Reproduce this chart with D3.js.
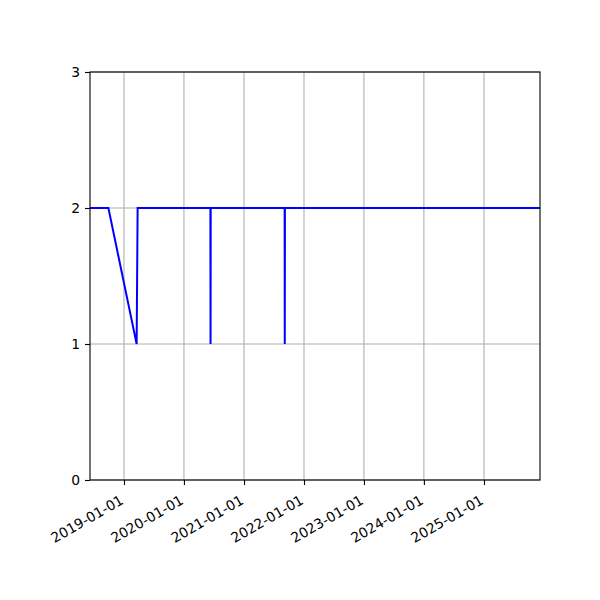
<!DOCTYPE html>
<html>
<head>
  <meta charset="UTF-8">
  <title>Step line</title>
  <style>
    body { margin: 0; background: #fff; }
    text { font-family: "DejaVu Sans", sans-serif; font-size: 13.9px; fill: #000; }
  </style>
</head>
<body>
<svg></svg>
<script src="https://d3js.org/d3.v7.min.js"></script>
<script>

// data
let dates = ["2018-06-08", "2018-09-28", "2019-03-19", "2019-03-25",
             "2020-06-10", "2020-06-11", "2020-06-12",
             "2021-09-05", "2021-09-06", "2021-09-07", "2025-12-08"];
let values = [2, 2, 1, 2, 2, 1, 2, 2, 1, 2, 2];
let tickDates = ["2019-01-01", "2020-01-01", "2021-01-01", "2022-01-01",
                 "2023-01-01", "2024-01-01", "2025-01-01"];
let yTicks = [0, 1, 2, 3];

let width = 600, height = 600;
let margin = {top: 72, right: 60, bottom: 120, left: 90};

let parse = d3.timeParse("%Y-%m-%d");
let points = dates.map((d, i) => ({date: parse(d), value: values[i]}));

let svg = d3.select("svg")
    .attr("width", width)
    .attr("height", height);

let x = d3.scaleTime()
    .domain(d3.extent(points, d => d.date))
    .range([margin.left, width - margin.right]);

let y = d3.scaleLinear()
    .domain([0, 3])
    .range([height - margin.bottom, margin.top]);

// grid
svg.append("g")
    .selectAll("line")
    .data(tickDates.map(parse))
    .enter()
    .append("line")
    .attr("x1", d => x(d)).attr("x2", d => x(d))
    .attr("y1", margin.top).attr("y2", height - margin.bottom)
    .attr("stroke", "#b0b0b0")
    .attr("stroke-width", 1.1);

svg.append("g")
    .selectAll("line")
    .data(yTicks)
    .enter()
    .append("line")
    .attr("x1", margin.left).attr("x2", width - margin.right)
    .attr("y1", d => y(d)).attr("y2", d => y(d))
    .attr("stroke", "#b0b0b0")
    .attr("stroke-width", 1.1);

// line
let line = d3.line()
    .x(d => x(d.date))
    .y(d => y(d.value));

svg.append("path")
    .datum(points)
    .attr("fill", "none")
    .attr("stroke", "blue")
    .attr("stroke-width", 2)
    .attr("d", line);

// frame
svg.append("rect")
    .attr("x", margin.left).attr("y", margin.top)
    .attr("width", width - margin.left - margin.right)
    .attr("height", height - margin.top - margin.bottom)
    .attr("fill", "none")
    .attr("stroke", "#000")
    .attr("stroke-width", 1.1);

// x axis, labels rotated like autofmt_xdate
let xAxis = svg.append("g")
    .attr("transform", "translate(0," + (height - margin.bottom) + ")")
    .call(d3.axisBottom(x)
        .tickValues(tickDates.map(parse))
        .tickSize(5)
        .tickPadding(5)
        .tickFormat(d3.timeFormat("%Y-%m-%d")));
xAxis.select(".domain").remove();
xAxis.selectAll("text")
    .attr("text-anchor", "end")
    .attr("dy", null)
    .attr("y", 0)
    .attr("x", 0)
    .attr("transform", "translate(0,23) rotate(-30)");

// y axis
let yAxis = svg.append("g")
    .attr("transform", "translate(" + margin.left + ",0)")
    .call(d3.axisLeft(y)
        .tickValues(yTicks)
        .tickSize(5)
        .tickPadding(5)
        .tickFormat(d3.format("d")));
yAxis.select(".domain").remove();
svg.selectAll(".tick line").attr("stroke-width", 1.1);
svg.selectAll(".tick text").style("font-size", "13.9px");

</script>
</body>
</html>
